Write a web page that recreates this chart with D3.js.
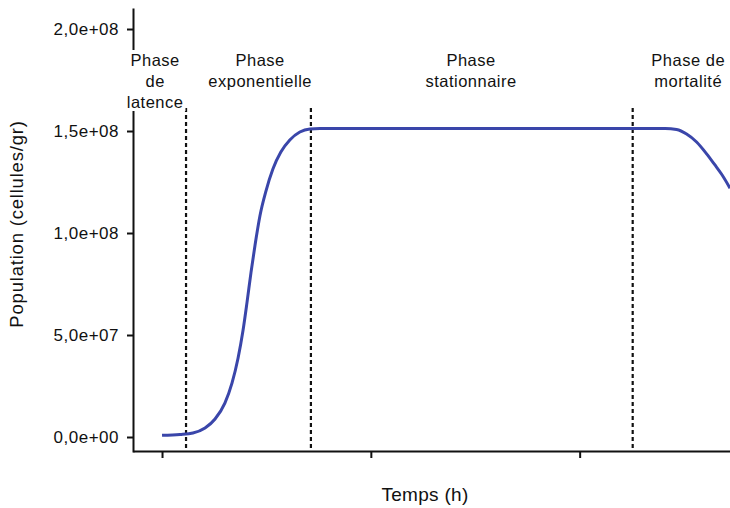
<!DOCTYPE html>
<html>
<head>
<meta charset="utf-8">
<script src="https://cdn.jsdelivr.net/npm/d3@7"></script>
<style>
  html, body { margin: 0; padding: 0; background: #fff; }
  svg { display: block; font-family: "Liberation Sans", Arial, Helvetica, sans-serif; }
</style>
</head>
<body>
<svg id="chart" width="730" height="508"></svg>
<script>
// ---- data ----
const timeH = [0, 0.86, 1.48, 2.06, 2.54, 3.01, 3.35, 3.64, 3.88, 4.07, 4.26, 4.45, 4.69, 4.98, 5.31, 5.69, 6.12, 6.6, 7.08, 7.56,
               24.1, 24.64, 25.12, 25.6, 26.08, 26.46, 26.8, 27.2];
const population = [0.8e6, 1.2e6, 1.95e6, 4.4e6, 8.8e6, 16.6e6, 26.4e6, 38.6e6, 52.3e6, 66e6, 80.6e6, 93.8e6, 108.5e6, 120.7e6, 131.4e6, 139.7e6, 145.6e6, 149.5e6, 151e6, 151.2e6,
                    151.2e6, 150.7e6, 148.5e6, 144.6e6, 138.8e6, 133.6e6, 128.8e6, 122e6];
const yTicks = [0, 5e7, 1e8, 1.5e8, 2e8];
const xTicks = [0, 10, 20];
const phaseBounds = [1.15, 7.13, 22.54];
const phaseLabels = [
  { x: -0.33, lines: ["Phase", "de", "latence"], mask: true },
  { x: 4.7, lines: ["Phase", "exponentielle"] },
  { x: 14.8, lines: ["Phase", "stationnaire"] },
  { x: 25.2, lines: ["Phase de", "mortalité"] }
];
const xTitle = "Temps (h)";
const yTitle = "Population (cellules/gr)";

// ---- scales ----
const svg = d3.select("#chart");
const x = d3.scaleLinear().domain([-1.39, 27.2]).range([133, 730]);
const y = d3.scaleLinear().domain([-7.35e6, 2.103e8]).range([452, 8]);

function sciFr(v) {
  if (v === 0) return "0,0e+00";
  const e = Math.floor(Math.log10(Math.abs(v)));
  const m = v / Math.pow(10, e);
  return m.toFixed(1).replace(".", ",") + "e" + (e >= 0 ? "+" : "-") + String(Math.abs(e)).padStart(2, "0");
}

// y axis
const yAxis = d3.axisLeft(y).tickValues(yTicks).tickFormat(sciFr).tickSize(6).tickSizeOuter(0).tickPadding(8);
const gy = svg.append("g").attr("transform", "translate(133,0)").call(yAxis);
gy.select(".domain").attr("stroke", "#111").attr("stroke-width", 2);
gy.selectAll(".tick line").attr("stroke", "#111").attr("stroke-width", 2);
gy.selectAll(".tick text").attr("fill", "#111").style("font-size", "17px").style("letter-spacing", "0.5px");

// x axis
const xAxis = d3.axisBottom(x).tickValues(xTicks).tickFormat("").tickSize(7).tickSizeOuter(0);
const gx = svg.append("g").attr("transform", "translate(0,451)").call(xAxis);
gx.select(".domain").attr("stroke", "#111").attr("stroke-width", 2);
gx.selectAll(".tick line").attr("stroke", "#111").attr("stroke-width", 2);

// phase boundaries
svg.append("g").selectAll("line").data(phaseBounds).join("line")
  .attr("x1", d => x(d)).attr("x2", d => x(d))
  .attr("y1", 108).attr("y2", 450)
  .attr("stroke", "#111").attr("stroke-width", 2.2).attr("stroke-dasharray", "4,3");

// curve
const line = d3.line().x((d, i) => x(timeH[i])).y(d => y(d)).curve(d3.curveMonotoneX);
svg.append("path").datum(population)
  .attr("d", line).attr("fill", "none")
  .attr("stroke", "#3a46aa").attr("stroke-width", 3);

// phase labels
phaseLabels.forEach(p => {
  const g = svg.append("g");
  const t = g.append("text").attr("text-anchor", "middle").attr("fill", "#111")
    .style("font-size", "16.5px").style("letter-spacing", "0.5px");
  p.lines.forEach((l, i) => {
    t.append("tspan").attr("x", x(p.x)).attr("y", 66 + i * 21).text(l);
  });
  if (p.mask) {
    const b = t.node().getBBox();
    g.insert("rect", "text").attr("x", b.x - 2).attr("y", b.y - 1)
      .attr("width", b.width + 4).attr("height", b.height + 1).attr("fill", "#fff");
  }
});

// titles
svg.append("text").attr("x", 425).attr("y", 501).attr("text-anchor", "middle")
  .attr("fill", "#111").style("font-size", "19px").style("letter-spacing", "0.3px").text(xTitle);
svg.append("text").attr("transform", "translate(23,224) rotate(-90)").attr("text-anchor", "middle")
  .attr("fill", "#111").style("font-size", "18.5px").style("letter-spacing", "0.8px").text(yTitle);
</script>
</body>
</html>
